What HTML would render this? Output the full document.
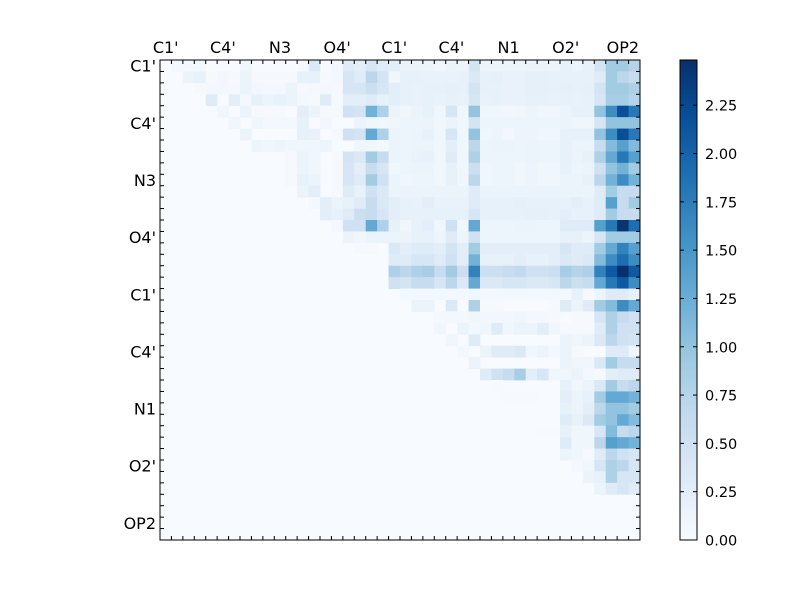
<!DOCTYPE html>
<html><head><meta charset="utf-8"><style>
body{margin:0;background:#fff;width:800px;height:600px;overflow:hidden}
svg text{font-family:"DejaVu Sans","Liberation Sans",sans-serif;fill:#000}
</style></head><body>
<svg id="chart" width="800" height="600" xmlns="http://www.w3.org/2000/svg">
<rect width="800" height="600" fill="#fff"/>
</svg>
<script>
const tickLabels = ["C1'","C4'","N3","O4'","C1'","C4'","N1","O2'","OP2"];
const cbTicks = [0,0.25,0.5,0.75,1.0,1.25,1.5,1.75,2.0,2.25];
const rowStart = [1,2,3,4,5,6,7,8,9,10,11,12,13,14,15,16,17,18,19,20,21,22,23,24,25,26,27,28,29,30,31,32,33,34,35,36,37,38];
const rowVals = [
[.05,.05,.05,0,0,0,.1,0,0,0,0,.03,.35,0,.05,.3,.25,.4,.3,.25,.15,.15,.12,.1,.15,.12,.45,.12,.12,.12,.12,.15,.15,.12,.2,.15,.2,.45,.9,.9,.75],
[.15,.2,.03,.08,.03,.15,.03,.03,.03,.03,.2,.2,.03,.05,.4,.3,.7,.45,.1,.2,.2,.18,.18,.18,.2,.35,.2,.22,.18,.18,.22,.22,.2,.2,.2,.2,.3,.9,.7,.6],
[.03,.05,.08,.05,.15,.08,.05,.05,.15,.03,.05,.05,.03,.4,.4,.55,.4,.25,.2,.18,.2,.2,.22,.2,.45,.2,.2,.18,.18,.22,.22,.2,.22,.2,.22,.45,.9,.9,.8],
[.3,0,.25,.05,.2,.15,.2,.15,.05,.03,.3,.03,.25,.25,.3,.2,.25,.2,.18,.2,.18,.2,.18,.4,.18,.2,.18,.18,.2,.2,.18,.2,.18,.2,.4,.85,.85,.75],
[.1,0,.15,.03,.03,.03,0,.25,.15,.03,.03,.5,.45,1.2,.8,.15,.1,.15,.2,.1,.4,.1,1.0,.1,.1,.08,.1,.12,.1,.1,.15,.2,.2,1.0,1.6,2.2,1.8],
[.1,0,.1,.05,.05,.05,.2,0,.08,0,0,.15,.1,.08,.1,.12,.12,.15,.1,.15,.1,.45,.12,.12,.12,.12,.12,.12,.12,.15,.1,.1,.4,1.0,1.0,1.0],
[.15,0,0,0,0,.2,.18,0,.03,.5,.45,1.3,.8,.15,.12,.15,.2,.1,.4,.1,1.0,.1,.12,.08,.12,.12,.1,.1,.2,.2,.2,1.0,1.6,2.2,1.8],
[.12,.1,.12,.1,.1,.1,.12,0,0,.1,.1,.05,.15,.12,.15,.15,.1,.25,.1,.7,.12,.15,.15,.12,.15,.12,.12,.2,.15,.15,.6,1.1,1.4,1.1],
[0,0,.03,.15,.1,0,.03,.45,.35,.9,.6,.15,.12,.18,.2,.1,.3,.1,.8,.12,.12,.12,.12,.15,.12,.12,.2,.15,.2,.8,1.3,1.8,1.4],
[0,.03,.15,.1,0,.03,.4,.25,.6,.4,.1,.12,.15,.15,.1,.2,.1,.55,.1,.12,.12,.1,.12,.1,.1,.2,.12,.15,.5,1.0,1.2,.9],
[.03,.2,.15,0,.03,.4,.3,.9,.5,.15,.1,.12,.12,.1,.2,.1,.7,.1,.12,.12,.1,.12,.1,.1,.15,.15,.2,.7,1.2,1.6,1.2],
[.15,.25,0,.03,.3,.2,.5,.35,.15,.15,.15,.15,.15,.15,.15,.3,.15,.15,.15,.15,.15,.15,.15,.15,.15,.15,.3,.9,.6,.6],
[.05,.25,.15,.2,.3,.6,.35,.25,.2,.18,.25,.18,.18,.18,.3,.2,.2,.2,.22,.2,.2,.2,.2,.25,.2,.3,1.4,.6,.9],
[.25,.2,.3,.55,.6,.4,.25,.2,.2,.2,.2,.2,.2,.4,.2,.2,.2,.2,.22,.22,.2,.25,.2,.2,.3,.9,.6,.6],
[.05,.5,.5,1.3,.8,.2,.1,.2,.25,.1,.5,.1,1.3,.12,.12,.12,.15,.15,.12,.12,.3,.3,.3,1.4,1.8,2.45,1.9],
[.15,.1,.15,.15,.15,.15,.2,.2,.12,.3,.12,.5,.12,.12,.12,.12,.12,.12,.12,.2,.2,.15,.4,.9,.9,.9],
[.03,.03,0,.35,.25,.3,.3,.25,.45,.25,.9,.25,.25,.25,.25,.25,.25,.25,.4,.3,.3,.9,1.3,1.7,1.4],
[0,0,.3,.3,.4,.4,.3,.5,.25,1.2,.2,.2,.2,.25,.2,.2,.25,.35,.3,.35,1.1,1.6,1.9,1.6],
[0,.8,.7,.8,.85,.6,.9,.55,1.7,.55,.55,.6,.65,.5,.5,.55,.85,.75,.8,1.7,2.1,2.48,2.1],
[.5,.45,.6,.6,.4,.7,.35,1.3,.35,.35,.4,.4,.35,.35,.4,.7,.55,.6,1.3,1.8,2.1,1.6],
[.05,.05,.05,.05,.05,.05,.1,.05,.05,.05,.05,.05,.05,.05,.05,.2,.03,.12,.3,.3,.2],
[.15,.15,0,.35,0,.8,.03,.03,0,0,0,0,.03,.3,.15,.3,.9,1.1,1.6,1.3],
[0,.05,.05,.05,.1,.08,.08,.08,.1,.05,.05,.03,0,.03,.03,.4,.8,.6,.5],
[.1,0,.15,.05,.1,.3,.1,.15,.15,.25,.1,.03,.03,.03,.3,.8,.5,.5],
[.1,0,.3,0,0,0,0,0,0,0,.15,.1,.15,.35,.7,.5,.45],
[.05,0,.15,.3,.3,.35,.1,.15,.05,.15,.03,0,0,.3,.3,.1],
[.15,0,0,0,0,0,0,0,.15,.1,.1,.35,.9,.6,.6],
[.3,.5,.6,.85,.25,.4,.1,.1,.15,.05,.03,.25,.3,.3],
[.01,0,0,0,0,0,.2,.1,.15,.35,.9,.6,.7],
[.01,.01,.01,0,0,.25,.15,.2,.9,1.3,1.3,1.2],
[0,0,0,0,.2,.15,.25,.7,1.0,1.0,.9],
[0,0,0,.3,.2,.35,.9,1.0,1.3,1.1],
[.01,.01,.2,.1,.1,.4,1.1,.6,.7],
[0,.3,.1,.1,.7,1.4,1.3,1.2],
[.15,.1,.03,.3,.7,.5,.4],
[.05,.1,.4,.8,.7,.4],
[.15,.2,.8,.4,.4],
[.15,.3,.4,.3]
];
const N = 42, vmax = 2.484;
const X0=160, Y0=60, W=480, H=480, cw=W/N;
const xScale = j => X0 + j*cw;
const yScale = i => Y0 + i*cw;
const stops=["#f7fbff","#deebf7","#c6dbef","#9ecae1","#6baed6","#4292c6","#2171b5","#08519c","#08306b"];
function hex(h){return [1,3,5].map(k=>parseInt(h.substr(k,2),16));}
function cmap(v){
  let t=Math.max(0,Math.min(1,v/vmax))*8; let k=Math.min(7,Math.floor(t)); let f=t-k;
  const a=hex(stops[k]), b=hex(stops[k+1]);
  return "rgb("+a.map((x,i)=>Math.round(x+(b[i]-x)*f)).join(",")+")";
}
const NS="http://www.w3.org/2000/svg", svg=document.getElementById('chart');
function mk(tag,attrs,parent){const e=document.createElementNS(NS,tag);for(const k in attrs)e.setAttribute(k,attrs[k]);(parent||svg).appendChild(e);return e;}
const cells=mk('g',{});


const bg=mk('rect',{x:X0,y:Y0,width:W,height:H,fill:stops[0]},cells);


rowVals.forEach((row,r)=>{
  row.forEach((v,c)=>{
    if(v<=0) return;
    const col=rowStart[r]+c;
    const rc=mk('rect',{x:xScale(col).toFixed(2),y:yScale(r).toFixed(2),width:(cw+0.4).toFixed(2),height:(cw+0.4).toFixed(2),fill:cmap(v)},cells);
    
    
  });
});
const frame=mk('rect',{x:X0,y:Y0,width:W,height:H,fill:'none',stroke:'#000','stroke-width':1});


const ticks=mk('g',{stroke:'#000','stroke-width':1});


for(let k=0;k<=N;k++){
  const p=xScale(k);
  mk('line',{x1:p,y1:Y0,x2:p,y2:Y0+4},ticks);
  mk('line',{x1:p,y1:Y0+H,x2:p,y2:Y0+H-4},ticks);
  const q=yScale(k);
  mk('line',{x1:X0,y1:q,x2:X0+4,y2:q},ticks);
  mk('line',{x1:X0+W,y1:q,x2:X0+W-4,y2:q},ticks);
}
tickLabels.forEach((lab,n)=>{
  const idx=n*5;
  const tx=mk('text',{x:xScale(idx)+cw/2,y:Y0-7,'font-size':16,'text-anchor':'middle'});
  tx.textContent=lab;
  
  
  const ty=mk('text',{x:X0-4,y:yScale(idx)+cw/2+6,'font-size':16,'text-anchor':'end'});
  ty.textContent=lab;
  
  
});
const CX=680, CW=17, CY=60, CH=480;
const defs=mk('defs',{});
const grad=mk('linearGradient',{id:'cbg',x1:0,y1:1,x2:0,y2:0},defs);
stops.forEach((s,i)=>mk('stop',{offset:(i/8),'stop-color':s},grad));
const cb=mk('rect',{x:CX,y:CY,width:CW,height:CH,fill:'url(#cbg)',stroke:'#000','stroke-width':1});


const cbScale=v=>CY+CH-v/vmax*CH;
cbTicks.forEach(v=>{
  const y=cbScale(v);
  mk('line',{x1:CX,y1:y,x2:CX+4,y2:y,stroke:'#000'});
  mk('line',{x1:CX+CW,y1:y,x2:CX+CW-4,y2:y,stroke:'#000'});
  const t=mk('text',{x:CX+CW+8,y:y+5.5,'font-size':14.5});
  t.textContent=v.toFixed(2);
  
  
});
</script>
</body></html>
